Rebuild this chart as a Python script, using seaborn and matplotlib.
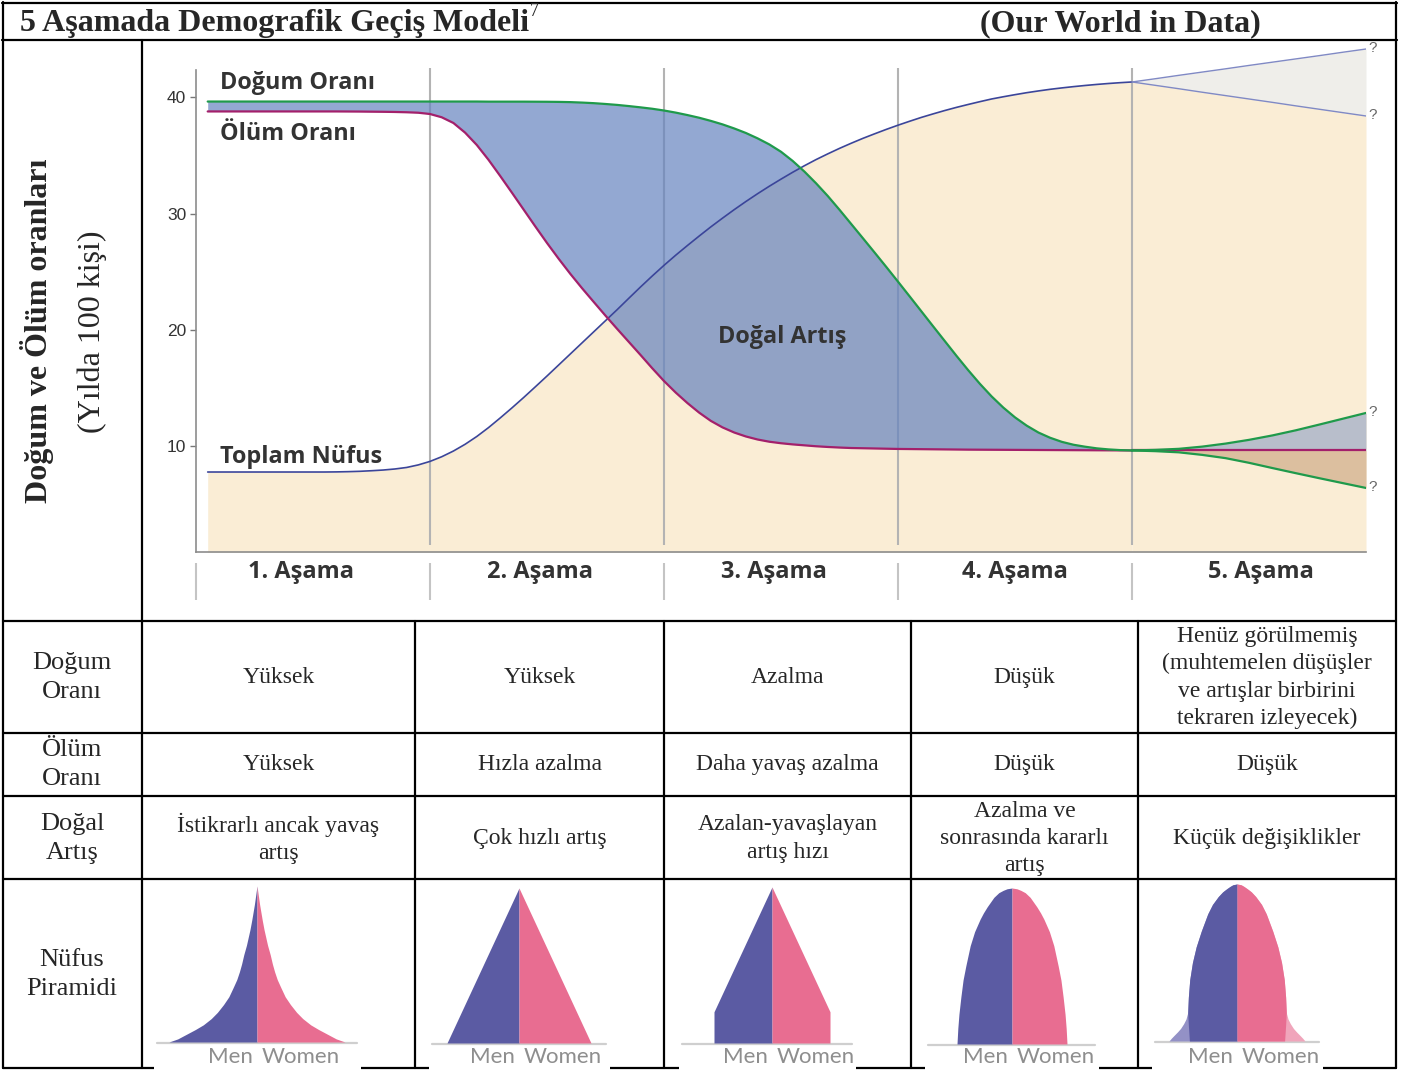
import numpy as np
import pandas as pd
import matplotlib
matplotlib.use("Agg")
import matplotlib.pyplot as plt
import seaborn as sns
from matplotlib.patches import Rectangle

# ---------------- data ----------------
# x in "stage" units (0..5), y in births/deaths per 100 people
stage_x = [0.05, 0.3] + [round(v, 2) for v in np.arange(0.5, 4.0001, 0.05)]
birth_rate = ([39.61] * 17 +
              [39.60, 39.60, 39.60, 39.60, 39.595, 39.59,
               39.58, 39.56, 39.52, 39.47, 39.40, 39.32, 39.22, 39.11, 38.99,
               38.84, 38.66, 38.45, 38.22, 37.95, 37.65, 37.30, 36.91, 36.45, 35.93,
               35.30, 34.51, 33.60, 32.59, 31.50, 30.32, 29.10, 27.88, 26.65, 25.41,
               24.15, 22.88, 21.60, 20.32, 19.05, 17.78, 16.55, 15.38, 14.30, 13.34,
               12.50, 11.79, 11.20, 10.75, 10.40, 10.15, 9.98, 9.84, 9.75, 9.69,
               9.66])
death_rate = [38.76, 38.76,
              38.76, 38.76, 38.76, 38.755, 38.75, 38.74, 38.73, 38.715, 38.69, 38.65,
              38.54, 38.26, 37.77, 36.94, 35.88, 34.61, 33.22, 31.79, 30.34, 28.89,
              27.47, 26.11, 24.81, 23.58, 22.40, 21.23, 20.09, 18.97, 17.85, 16.71,
              15.62, 14.63, 13.73, 12.91, 12.20, 11.64, 11.20, 10.86, 10.60, 10.41,
              10.28, 10.18, 10.10, 10.02, 9.96, 9.91, 9.87, 9.85, 9.83, 9.81,
              9.79, 9.78, 9.77, 9.76, 9.75, 9.74, 9.73, 9.725, 9.72, 9.715,
              9.71, 9.705, 9.70, 9.695, 9.69, 9.685, 9.68, 9.675, 9.67, 9.665,
              9.66]
population = [7.81, 7.81,
              7.81, 7.81, 7.82, 7.84, 7.87, 7.92, 7.98, 8.07, 8.20, 8.42,
              8.72, 9.12, 9.61, 10.19, 10.86, 11.62, 12.45, 13.31, 14.20, 15.12,
              16.05, 17.00, 17.95, 18.90, 19.85, 20.80, 21.75, 22.73, 23.70, 24.64,
              25.55, 26.42, 27.25, 28.06, 28.85, 29.60, 30.33, 31.03, 31.70, 32.34,
              32.95, 33.54, 34.10, 34.63, 35.12, 35.59, 36.03, 36.45, 36.84, 37.22,
              37.58, 37.92, 38.25, 38.55, 38.84, 39.11, 39.36, 39.60, 39.83, 40.02,
              40.20, 40.37, 40.52, 40.66, 40.78, 40.89, 40.99, 41.08, 41.16, 41.23,
              41.29]
assert len(stage_x) == len(birth_rate) == len(death_rate) == len(population)

# stage 5 (uncertain future)
stage5_x = [4.0, 4.1, 4.2, 4.3, 4.4, 4.5, 4.6, 4.7, 4.8, 4.9, 5.0]
birth5_high = [9.66, 9.71, 9.80, 9.99, 10.25, 10.57, 10.95, 11.39, 11.88, 12.38, 12.88]
birth5_low = [9.66, 9.60, 9.50, 9.28, 9.00, 8.60, 8.15, 7.71, 7.28, 6.86, 6.44]
death5 = [9.66] * 11
pop5_high = [41.29, 41.57, 41.86, 42.14, 42.42, 42.71, 42.99, 43.27, 43.55, 43.84, 44.12]
pop5_low = [41.29, 41.00, 40.71, 40.41, 40.12, 39.83, 39.54, 39.24, 38.95, 38.66, 38.37]

y_ticks = [10, 20, 30, 40]
stage_labels = ["1. Aşama", "2. Aşama", "3. Aşama", "4. Aşama", "5. Aşama"]
stage_bounds = [1, 2, 3, 4]

row_labels = ["Doğum\nOranı", "Ölüm\nOranı", "Doğal\nArtış", "Nüfus\nPiramidi"]
row_birth = ["Yüksek", "Yüksek", "Azalma", "Düşük",
             "Henüz görülmemiş\n(muhtemelen düşüşler\nve artışlar birbirini\ntekraren izleyecek)"]
row_death = ["Yüksek", "Hızla azalma", "Daha yavaş azalma", "Düşük", "Düşük"]
row_growth = ["İstikrarlı ancak yavaş\nartış", "Çok hızlı artış",
              "Azalan-yavaşlayan\nartış hızı", "Azalma ve\nsonrasında kararlı\nartış",
              "Küçük değişiklikler"]

# pyramid profiles: relative height (0 base .. 1 top) and relative half-width
pyr1_h = [0, .02, .05, .08, .11, .15, .19, .24, .29, .35, .40, .45, .50, .56, .62,
          .67, .72, .78, .83, .88, .92, .96, 1.0]
pyr1_w = [1, .90, .80, .70, .61, .52, .45, .38, .32, .27, .23, .20, .175, .15, .12,
          .10, .08, .06, .045, .03, .02, .01, 0]
pyr2_h = [0, 1]
pyr2_w = [1, 0]
pyr3_h = [0, .2, 1]
pyr3_w = [1, 1, 0]
pyr4_h = [0, .10, .19, .30, .41, .50, .63, .72, .80, .84, .88, .91, .94, .96, .97,
          .985, .995, 1.0]
pyr4_w = [1, .985, .965, .93, .89, .84, .76, .68, .58, .52, .45, .39, .33, .27, .24,
          .16, .09, 0]
pyr5_outer_h = [0, .018, .036, .058, .08, .11, .14, .18, .28, .39, .50, .60, .70, .81,
                .87, .92, .95, .97, .985, .995, 1.0]
pyr5_outer_w = [1, .965, .925, .875, .83, .785, .75, .725, .715, .695, .655, .60, .525,
                .43, .36, .275, .21, .15, .10, .06, 0]
pyr5_inner_h = [0, .10, .18, .28, .39, .50, .60, .70, .81, .87, .92, .95, .97, .985,
                .995, 1.0]
pyr5_inner_w = [.70, .715, .725, .715, .695, .655, .60, .525, .43, .36, .275, .21, .15,
                .10, .06, 0]

# ---------------- style ----------------
sns.set_theme(style="white")
plt.rcParams['font.family'] = ['DejaVu Sans']

W, H = 1404, 1070
fig = plt.figure(figsize=(W / 100, H / 100), dpi=100)

def fx(px):
    return px / W

def fy(py):
    return 1 - py / H

SERIF = "Liberation Serif"
SANS_B = "Open Sans"

BEIGE = "#FAEDD5"
GRAY5 = "#EFEEEA"
BLUE = (101 / 255, 131 / 255, 191 / 255)
S5_UP = "#B8BECB"
S5_DN = "#DCBF9F"
GREEN = "#1F9A4B"
MAG = "#A3206B"
NAVY = "#3B4599"
NAVY5 = "#8089C4"
MEN = "#5B5BA3"
WOMEN = "#E86D91"
MEN_P = "#9391C6"
WOMEN_P = "#F0A5BB"

# ---------------- overlay (frame, table, titles) ----------------
ov = fig.add_axes([0, 0, 1, 1], zorder=0)
ov.set_xlim(0, W)
ov.set_ylim(H, 0)
ov.axis("off")

lw_tab = 1.6
ov.plot([2, 1397], [2.5, 2.5], color="black", lw=lw_tab)
ov.plot([2, 1397], [40, 40], color="black", lw=lw_tab)
ov.plot([3, 3], [2, 1068], color="black", lw=lw_tab)
ov.plot([1396, 1396], [2, 1068], color="black", lw=lw_tab)
ov.plot([142, 142], [40, 1068], color="black", lw=lw_tab)
for yy in [621, 733, 796, 879]:
    ov.plot([3, 1396], [yy, yy], color="black", lw=lw_tab)
for xx in [415, 664, 911, 1138]:
    ov.plot([xx, xx], [621, 1068], color="black", lw=lw_tab)
ov.plot([3, 1396], [1068, 1068], color="black", lw=lw_tab)

ov.text(20, 23.5, "5 Aşamada Demografik Geçiş Modeli", ha="left", va="center",
        fontsize=23, fontweight="bold", family=SERIF)
ov.text(530, 12, "7", ha="left", va="center", fontsize=13, family=SERIF)
ov.text(980, 23.5, "(Our World in Data)", ha="left", va="center",
        fontsize=23, fontweight="bold", family=SERIF)

ov.text(37, 331, "Doğum ve Ölüm oranları", rotation=90, ha="center", va="center",
        fontsize=23, fontweight="bold", family=SERIF)
ov.text(92, 332, "(Yılda 100 kişi)", rotation=90, ha="center", va="center",
        fontsize=23, family=SERIF)

col_centers = [278.5, 539.5, 787.5, 1024.5, 1267]
row_centers = [677.5, 764.5, 838.5, 974.5]
for lab, yc in zip(row_labels, row_centers):
    ov.text(72, yc, lab, ha="center", va="center", fontsize=19, family=SERIF,
            linespacing=1.4)
for row, yc in zip([row_birth, row_death, row_growth], row_centers[:3]):
    for txt, xc in zip(row, col_centers):
        ov.text(xc, yc, txt, ha="center", va="center", fontsize=17, family=SERIF,
                linespacing=1.38)

# ---------------- pyramids ----------------
pyr_specs = [
    # center px, half width px, apex py, base py, white box L, R
    (257, 88, 886, 1042, 154, 361),
    (519, 72, 888, 1043, 429, 610),
    (772, 58, 887, 1043, 679, 856),
    (1012, 55, 888, 1044, 925, 1099),
    (1237, 68, 884, 1041, 1152, 1323),
]
pyr_profiles = [(pyr1_h, pyr1_w), (pyr2_h, pyr2_w), (pyr3_h, pyr3_w), (pyr4_h, pyr4_w),
                (pyr5_inner_h, pyr5_inner_w)]
for i, ((cx, hw, top, base, L, R), (ph, pw)) in enumerate(zip(pyr_specs, pyr_profiles)):
    ov.add_patch(Rectangle((L, 1060), R - L, 12, facecolor="white", edgecolor="none",
                           zorder=3))
    ov.plot([L + 3, R - 4], [base + 1, base + 1], color="#CFCFCF", lw=1.6, zorder=4)
    ov.text(cx - 4, 1057, "Men", ha="right", va="center", fontsize=16,
            family="Lato", color="#8E8E8E", zorder=4)
    ov.text(cx + 5, 1057, "Women", ha="left", va="center", fontsize=16,
            family="Lato", color="#8E8E8E", zorder=4)
    pax = fig.add_axes([fx(cx - hw), fy(base), fx(cx + hw) - fx(cx - hw), fy(top) - fy(base)],
                       zorder=3)
    pax.set_xlim(-1, 1)
    pax.set_ylim(0, 1)
    pax.axis("off")
    pax.patch.set_alpha(0)
    if i == 4:
        oh, ow = np.array(pyr5_outer_h), np.array(pyr5_outer_w)
        pax.fill_betweenx(oh, -ow, 0, color=MEN_P, lw=0)
        pax.fill_betweenx(oh, 0, ow, color=WOMEN_P, lw=0)
    ph, pw = np.array(ph), np.array(pw)
    pax.fill_betweenx(ph, -pw, 0, color=MEN, lw=0)
    pax.fill_betweenx(ph, 0, pw, color=WOMEN, lw=0)

# ---------------- main chart ----------------
y_bot, y_top = 0.944, 44.893
ax = fig.add_axes([fx(196), fy(552), fx(1366) - fx(196), fy(40) - fy(552)], zorder=2)
ax.patch.set_alpha(0)
ax.set_xlim(0, 5)
ax.set_ylim(y_bot, y_top)

ax.fill_between(stage_x, y_bot, population, color=BEIGE, lw=0, zorder=1)
ax.fill_between(stage5_x, y_bot, pop5_low, color=BEIGE, lw=0, zorder=1)
ax.fill_between(stage5_x, pop5_low, pop5_high, color=GRAY5, lw=0, zorder=1)
ax.vlines(stage_bounds, 1.545, 42.49, color="#B3B3B3", lw=1.5, zorder=2)
ax.fill_between(stage_x, death_rate, birth_rate, color=BLUE, alpha=0.7, lw=0, zorder=3)
ax.fill_between(stage5_x, death5, birth5_high, color=S5_UP, lw=0, zorder=3)
ax.fill_between(stage5_x, birth5_low, death5, color=S5_DN, lw=0, zorder=3)

sns.lineplot(x=stage_x, y=population, color=NAVY, lw=1.2, ax=ax, zorder=4)
sns.lineplot(x=stage5_x, y=pop5_high, color=NAVY5, lw=1.0, ax=ax, zorder=4)
sns.lineplot(x=stage5_x, y=pop5_low, color=NAVY5, lw=1.0, ax=ax, zorder=4)
sns.lineplot(x=stage_x, y=death_rate, color=MAG, lw=1.6, ax=ax, zorder=5)
sns.lineplot(x=stage5_x, y=death5, color=MAG, lw=1.6, ax=ax, zorder=5)
sns.lineplot(x=stage_x, y=birth_rate, color=GREEN, lw=1.6, ax=ax, zorder=6)
sns.lineplot(x=stage5_x, y=birth5_high, color=GREEN, lw=1.6, ax=ax, zorder=6)
sns.lineplot(x=stage5_x, y=birth5_low, color=GREEN, lw=1.6, ax=ax, zorder=6)

for yv in [pop5_high[-1], pop5_low[-1], birth5_high[-1], birth5_low[-1]]:
    ax.annotate("?", xy=(stage5_x[-1], yv), xytext=(2, 1), textcoords="offset points",
                ha="left", va="center", fontsize=11, color="#666666",
                family="Liberation Sans", annotation_clip=False)

lab_kw = dict(ha="left", va="center", fontsize=16.8, fontweight="bold", family=SANS_B,
              color="#333333", zorder=7)
ax.text(0.103, 41.20, "Doğum Oranı", **lab_kw)
ax.text(0.103, 36.82, "Ölüm Oranı", **lab_kw)
ax.text(0.103, 9.10, "Toplam Nüfus", **lab_kw)
ax.text(2.231, 19.40, "Doğal Artış", **lab_kw)

# stage labels + separators below axis
for xpos, lab in zip([0.45, 1.47, 2.47, 3.5, 4.55], stage_labels):
    ax.text(xpos, -0.77, lab, ha="center", va="center", fontsize=16.9, fontweight="bold",
            family=SANS_B, color="#333333", clip_on=False)
ax.vlines([0] + stage_bounds, -3.18, 0.0, color="#C4C4C4", lw=1.5, clip_on=False)

ax.set_xticks([])
ax.set_yticks(y_ticks)
ax.set_yticklabels([str(t) for t in y_ticks], family="Liberation Sans")
ax.tick_params(axis="y", length=4.5, width=1, color="#777777", labelsize=12.5,
               labelcolor="#333333", pad=2.5, left=True)
for s in ["top", "right"]:
    ax.spines[s].set_visible(False)
for s in ["left", "bottom"]:
    ax.spines[s].set_color("#8C8C8C")
    ax.spines[s].set_linewidth(1.2)
ax.spines["left"].set_bounds(y_bot, 42.32)
ax.set_xlabel("")
ax.set_ylabel("")

fig.savefig("out.png", dpi=100)
